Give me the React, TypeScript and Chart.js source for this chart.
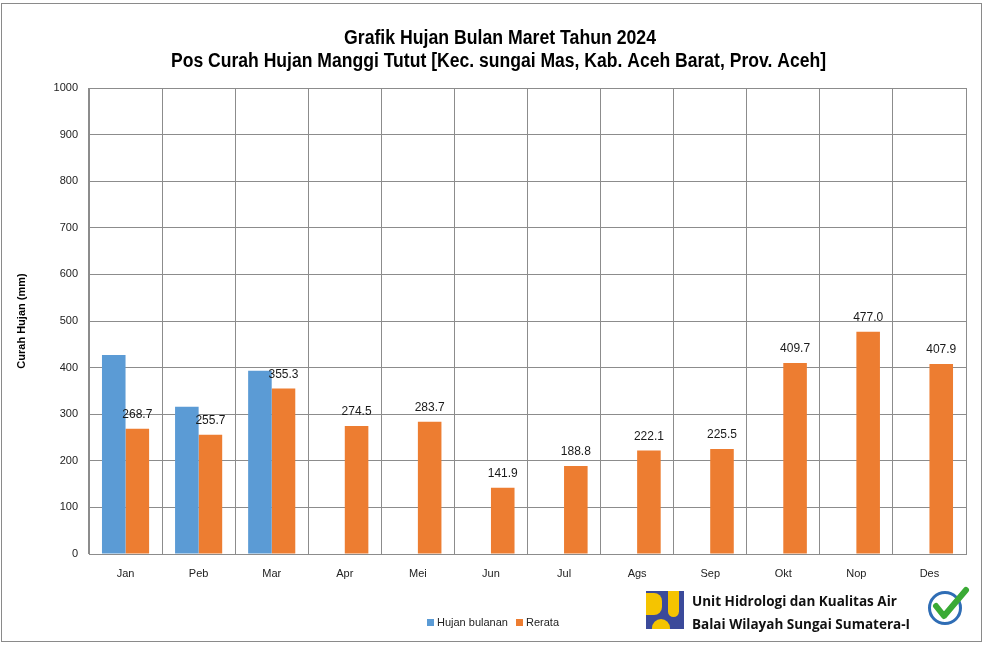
import React, { useEffect, useRef } from "react";
import { Chart, registerables } from "chart.js";

Chart.register(...registerables);

const months = ["Jan", "Peb", "Mar", "Apr", "Mei", "Jun", "Jul", "Ags", "Sep", "Okt", "Nop", "Des"];
const hujanBulanan: (number | null)[] = [427, 316, 393, null, null, null, null, null, null, null, null, null];
const rerata = [268.7, 255.7, 355.3, 274.5, 283.7, 141.9, 188.8, 222.1, 225.5, 409.7, 477.0, 407.9];
const titleLines = ["Grafik Hujan Bulan Maret Tahun 2024", "Pos Curah Hujan Manggi Tutut [Kec. sungai Mas, Kab. Aceh Barat, Prov. Aceh]"];
const yAxisTitle = "Curah Hujan (mm)";
const legendLabels = ["Hujan bulanan", "Rerata"];
const logoLines = ["Unit Hidrologi dan Kualitas Air", "Balai Wilayah Sungai Sumatera-I"];

const BLUE = "#5B9BD5";
const ORANGE = "#ED7D31";
const GRID = "#8c8c8c";
const FONT = "'Liberation Sans', Arial, sans-serif";

function narrowText(ctx: any, text: string, cx: number, cy: number, width: number) {
  const w = ctx.measureText(text).width;
  ctx.save();
  ctx.translate(cx, cy);
  ctx.scale(width / w, 1);
  ctx.fillText(text, 0, 0);
  ctx.restore();
}

const decorPlugin = {
  id: "decor",
  afterDatasetsDraw(chart: any) {
    const ctx = chart.ctx;
    const meta = chart.getDatasetMeta(1);
    ctx.save();
    ctx.font = `12px ${FONT}`;
    ctx.fillStyle = "#1a1a1a";
    ctx.textAlign = "center";
    ctx.textBaseline = "middle";
    meta.data.forEach((bar: any, i: number) => {
      ctx.fillText(rerata[i].toFixed(1), bar.x, bar.y - 14);
    });
    ctx.restore();
  },
  afterDraw(chart: any) {
    const ctx = chart.ctx;
    const area = chart.chartArea;
    ctx.save();
    // outer border
    ctx.strokeStyle = "#8a8a8a";
    ctx.lineWidth = 1;
    ctx.strokeRect(1.5, 3.5, 980, 638);
    // title
    ctx.fillStyle = "#000";
    ctx.textAlign = "center";
    ctx.textBaseline = "middle";
    ctx.font = `bold 20px ${FONT}`;
    narrowText(ctx, titleLines[0], 500, 38, 312);
    narrowText(ctx, titleLines[1], 498.5, 61, 655);
    // y axis title
    ctx.save();
    ctx.translate(22, (area.top + area.bottom) / 2);
    ctx.rotate(-Math.PI / 2);
    ctx.font = `bold 11px ${FONT}`;
    ctx.fillText(yAxisTitle, 0, 0);
    ctx.restore();
    // legend
    ctx.font = `11px ${FONT}`;
    ctx.textAlign = "left";
    ctx.fillStyle = BLUE;
    ctx.fillRect(427, 619, 7, 7);
    ctx.fillStyle = "#222";
    ctx.fillText(legendLabels[0], 437, 623);
    ctx.fillStyle = ORANGE;
    ctx.fillRect(516, 619, 7, 7);
    ctx.fillStyle = "#222";
    ctx.fillText(legendLabels[1], 526, 623);
    ctx.restore();
  },
};

export default function App() {
  const ref = useRef<HTMLCanvasElement>(null);
  useEffect(() => {
    const chart = new Chart(ref.current!, {
      type: "bar",
      data: {
        labels: months,
        datasets: [
          { label: legendLabels[0], data: hujanBulanan, backgroundColor: BLUE, categoryPercentage: 0.645, barPercentage: 1 },
          { label: legendLabels[1], data: rerata, backgroundColor: ORANGE, categoryPercentage: 0.645, barPercentage: 1 },
        ],
      },
      options: {
        animation: false,
        responsive: false,
        maintainAspectRatio: false,
        layout: { padding: { top: 88, right: 18, bottom: 0, left: 0 } },
        plugins: { legend: { display: false }, title: { display: false }, tooltip: { enabled: false } },
        scales: {
          x: {
            grid: { offset: true, color: GRID, drawTicks: false },
            border: { color: GRID },
            ticks: { color: "#222", font: { family: FONT, size: 11 }, padding: 13 },
            afterFit(scale: any) { scale.height = 91; },
          },
          y: {
            min: 0,
            max: 1000,
            grid: { color: GRID, drawTicks: false },
            border: { color: GRID },
            ticks: { stepSize: 100, color: "#222", font: { family: FONT, size: 11 }, padding: 11, callback: (v: any) => String(v) },
            afterFit(scale: any) { scale.width = 89; },
          },
        },
      },
      plugins: [decorPlugin],
    } as any);
    return () => chart.destroy();
  }, []);

  return (
    <div style={{ position: "fixed", left: 0, top: 0, width: 984, height: 645, background: "#fff" }}>
      <canvas ref={ref} width={984} height={645} style={{ position: "absolute", left: 0, top: 0 }} />
      <div style={{ position: "absolute", left: 646, top: 591, width: 38, height: 38, background: "#3b4a9a", overflow: "hidden" }}>
        <div style={{ position: "absolute", left: 0, top: 2, width: 16, height: 22, background: "#f5c400", borderRadius: "0 8px 8px 0" }} />
        <div style={{ position: "absolute", left: 22, top: 0, width: 11, height: 26, background: "#f5c400", borderRadius: "0 0 8px 8px" }} />
        <div style={{ position: "absolute", left: 6, top: 28, width: 18, height: 14, background: "#f5c400", borderRadius: "9px 9px 0 0" }} />
      </div>
      <div style={{ position: "absolute", left: 692, top: 590, fontFamily: "'Open Sans', sans-serif", fontWeight: 700, fontSize: 13.5, lineHeight: "23px", color: "#111", whiteSpace: "nowrap" }}>
        <div>{logoLines[0]}</div>
        <div>{logoLines[1]}</div>
      </div>
      <div style={{ position: "absolute", left: 928, top: 591, width: 34, height: 34, borderRadius: "50%", border: "3px solid #2f6db5", boxSizing: "border-box" }} />
      <svg style={{ position: "absolute", left: 926, top: 586 }} width={48} height={40}>
        <path d="M10 20 L18 30 L40 4" stroke="#3aaa35" strokeWidth={6} fill="none" strokeLinecap="round" strokeLinejoin="round" />
      </svg>
    </div>
  );
}
